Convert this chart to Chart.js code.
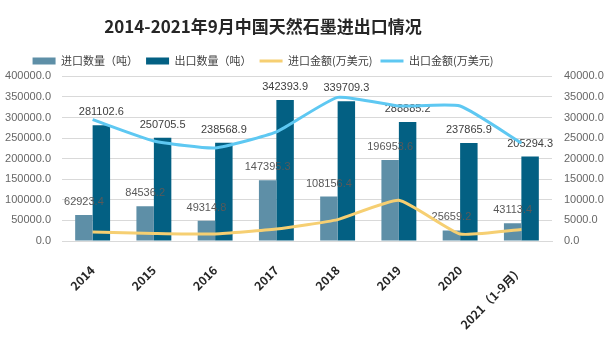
<!DOCTYPE html>
<html>
<head>
<meta charset="utf-8">
<script src="https://cdn.jsdelivr.net/npm/chart.js@4"></script>
<style>
html,body{margin:0;padding:0;background:#fff;}
#wrap{position:relative;width:606px;height:349px;}
</style>
</head>
<body>
<div id="wrap"><canvas id="c"></canvas></div>
<script>
const categories = ['2014','2015','2016','2017','2018','2019','2020','2021（1-9月）'];
const importQty = [62923.4, 84536.2, 49314.8, 147395.3, 108156.4, 196953.6, 25659.2, 43113.4];
const exportQty = [281102.6, 250705.5, 238568.9, 342393.9, 339709.3, 288885.2, 237865.9, 205294.3];
const importAmt = [2200, 1850, 1700, 2900, 5200, 9900, 1700, 2800];
const exportAmt = [29500, 24300, 22600, 26500, 34900, 32800, 32800, 23800];
const leftTicks = {min: 0, max: 400000, step: 50000};
const rightTicks = {min: 0, max: 40000, step: 5000};

const FONT = "'Noto Sans CJK SC', 'Noto Sans', sans-serif";
const NUMFONT = "'Liberation Sans', Arial, sans-serif";
Chart.defaults.font.family = FONT;

const shiftPlugin = {
  id: 'shiftHeader',
  afterLayout(chart) {
    const dx = -40;
    [chart.titleBlock, chart.legend].forEach(b => { if (b) { b.left += dx; b.right += dx; } });
  }
};

const labelPlugin = {
  id: 'barLabels',
  afterDatasetDraw(chart, args) {
    const ds = chart.data.datasets[args.index];
    if (ds.type !== 'bar') return;
    const ctx = chart.ctx;
    ctx.save();
    ctx.font = '11px ' + NUMFONT;
    ctx.textAlign = 'center';
    ctx.textBaseline = 'middle';
    ctx.fillStyle = ds.labelColor;
    args.meta.data.forEach((el, i) => {
      ctx.fillText(ds.data[i].toFixed(1), el.x, el.y - 13);
    });
    ctx.restore();
  }
};

new Chart(document.getElementById('c'), {
  data: {
    labels: categories,
    datasets: [
      {type: 'bar', label: '进口数量（吨）', data: importQty, backgroundColor: '#5e8fa7', yAxisID: 'y', order: 2, labelColor: '#595959'},
      {type: 'bar', label: '出口数量（吨）', data: exportQty, backgroundColor: '#036083', yAxisID: 'y', order: 2, labelColor: '#404040'},
      {type: 'line', label: '进口金额(万美元)', data: importAmt, borderColor: '#f6cf72', backgroundColor: '#f6cf72', borderWidth: 3, pointRadius: 0, tension: 0.15, yAxisID: 'y1', order: 1},
      {type: 'line', label: '出口金额(万美元)', data: exportAmt, borderColor: '#5ec8f2', backgroundColor: '#5ec8f2', borderWidth: 3, pointRadius: 0, tension: 0.15, yAxisID: 'y1', order: 1}
    ]
  },
  options: {
    responsive: true,
    maintainAspectRatio: false,
    animation: false,
    layout: {padding: {left: 0, right: 0, top: 0, bottom: 0}},
    datasets: {bar: {barPercentage: 1, categoryPercentage: 0.57}},
    plugins: {
      title: {
        display: true,
        text: '2014-2021年9月中国天然石墨进出口情况',
        color: '#262626',
        font: {size: 17, weight: 'bold', family: FONT},
        padding: {top: 16, bottom: 11}
      },
      legend: {
        display: true,
        position: 'top',
        labels: {
          font: {size: 11, family: FONT},
          color: '#404040',
          usePointStyle: true,
          pointStyleWidth: 23,
          boxHeight: 7,
          padding: 8,
          generateLabels(chart) {
            return chart.data.datasets.map((ds, i) => ({
              text: ds.label,
              fillStyle: ds.type === 'line' ? ds.borderColor : ds.backgroundColor,
              strokeStyle: ds.type === 'line' ? ds.borderColor : ds.backgroundColor,
              lineWidth: ds.type === 'line' ? 3 : 0,
              pointStyle: ds.type === 'line' ? 'line' : 'rect',
              fontColor: '#404040',
              hidden: false,
              datasetIndex: i
            }));
          }
        }
      },
      tooltip: {enabled: false}
    },
    scales: {
      x: {
        grid: {display: false, drawTicks: false},
        border: {display: true, color: '#d9d9d9'},
        afterFit(scale) { scale.height = 108; },
        ticks: {
          color: '#262626',
          font: {size: 12, weight: 'bold', family: FONT},
          minRotation: 45, maxRotation: 45,
          padding: 22
        }
      },
      y: {
        position: 'left',
        min: leftTicks.min, max: leftTicks.max,
        grid: {color: '#d9d9d9', drawTicks: false},
        border: {display: false},
        afterFit(scale) { scale.width = 62; },
        ticks: {stepSize: leftTicks.step, color: '#666666', font: {size: 11, family: NUMFONT}, padding: 11,
          callback: v => Number(v).toFixed(1)}
      },
      y1: {
        position: 'right',
        min: rightTicks.min, max: rightTicks.max,
        grid: {drawOnChartArea: false, drawTicks: false},
        border: {display: false},
        afterFit(scale) { scale.width = 54; },
        ticks: {stepSize: rightTicks.step, color: '#666666', font: {size: 11, family: NUMFONT}, padding: 12,
          callback: v => Number(v).toFixed(1)}
      }
    }
  },
  plugins: [shiftPlugin, labelPlugin]
});
</script>
</body>
</html>
